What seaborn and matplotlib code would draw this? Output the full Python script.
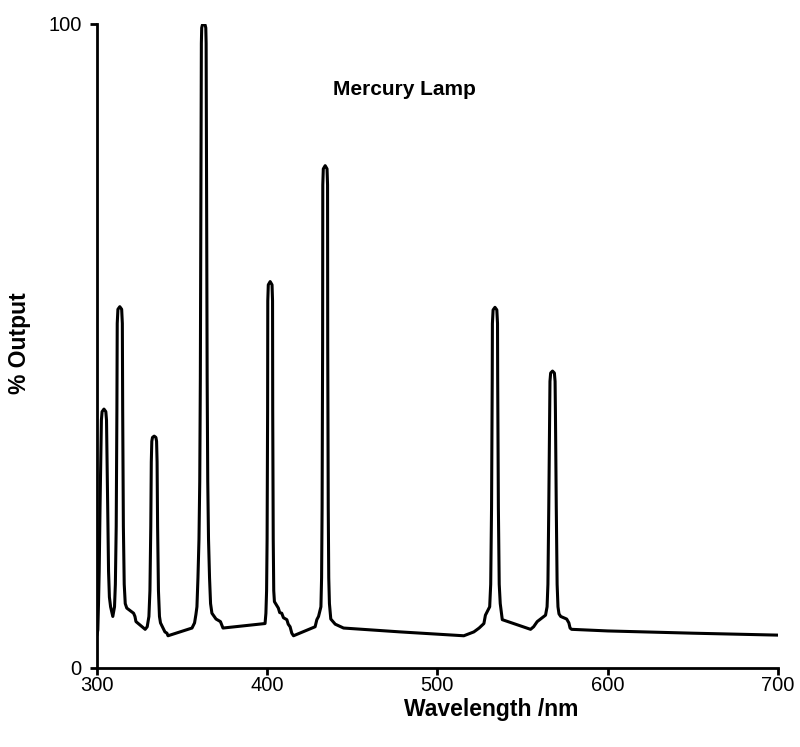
import matplotlib
matplotlib.use("Agg")
import matplotlib.pyplot as plt
import pandas as pd
import seaborn as sns

# Mercury lamp emission trace: wavelength (nm) and relative output (%)
wavelength_nm = [
    # 300-310 nm line
    300.0, 300.6, 301.0, 301.4, 301.9, 302.4, 302.7, 303.1, 304.2, 305.3, 305.7, 306.0,
    306.4, 306.9, 307.4, 308.1, 309.4,
    # 313 nm line
    310.4, 310.9, 311.4, 311.8, 312.0, 312.4, 313.5, 314.6, 315.0, 315.2, 315.6, 316.1,
    316.7, 317.6, 321.6, 322.4, 323.0, 328.4, 329.6,
    # 334 nm line
    330.6, 331.2, 331.7, 332.0, 332.3, 332.7, 333.7, 334.7, 335.1, 335.4, 335.7, 336.2,
    336.8, 337.4, 340.0, 341.2, 341.8, 355.9,
    # 363 nm line
    357.4, 358.2, 358.8, 359.4, 360.0, 360.45, 360.8, 361.1, 361.4, 361.6, 362.0, 362.8,
    363.6, 364.0, 364.2, 364.5, 364.8, 365.15, 365.6, 366.2, 366.8, 367.6, 370.0, 372.6,
    373.5, 374.1, 398.8,
    # 402 nm line
    399.3, 399.7, 400.0, 400.3, 400.4, 400.7, 401.8, 402.9, 403.2, 403.3, 403.6, 403.9,
    404.3, 405.2, 406.6, 407.4, 408.6, 409.6, 411.6, 412.4, 413.5, 414.5, 415.5, 428.2,
    # 434 nm line
    429.2, 430.2, 431.6, 432.0, 432.3, 432.6, 432.7, 433.0, 434.1, 435.2, 435.5, 435.6,
    435.9, 436.2, 436.6, 437.4, 440.0, 444.9, 478.2, 515.5, 521.4, 524.5, 527.3,
    # 534 nm line
    528.2, 530.7, 531.3, 531.8, 532.2, 532.3, 532.7, 533.8, 534.9, 535.3, 535.4, 535.8,
    536.3, 536.9, 538.1, 554.7, 556.5, 558.6, 563.5,
    # 568 nm line
    564.4, 564.9, 565.4, 565.9, 566.1, 566.5, 567.6, 568.7, 569.1, 569.3, 569.8, 570.3,
    570.8, 571.4, 572.4, 575.9, 577.2, 577.9, 578.8, 600.0, 650.0, 700.0,
]
output_pct = [
    5.0, 5.9, 10.0, 15.0, 25.0, 33.0, 38.5, 39.8, 40.2, 39.8, 38.5, 33.0,
    25.0, 15.0, 11.0, 9.5, 8.0,
    9.5, 13.0, 22.0, 40.0, 53.5, 55.7, 56.1, 55.7, 53.5, 40.0, 22.0, 13.0,
    10.0, 9.3, 8.5, 8.0, 7.2, 6.0, 6.4,
    8.0, 12.0, 22.0, 32.0, 35.2, 35.8, 36.0, 35.8, 35.2, 32.0, 22.0, 12.0,
    8.0, 7.0, 5.6, 5.4, 5.0, 6.2,
    7.0, 8.3, 9.5, 14.0, 20.0, 29.0, 45.0, 70.0, 97.0, 99.4, 99.85, 100.0,
    99.85, 99.4, 97.0, 70.0, 45.0, 29.0, 20.0, 14.0, 10.0, 8.5, 7.6, 7.2,
    6.6, 6.2, 6.9,
    8.5, 12.0, 20.0, 40.0, 57.0, 59.5, 60.0, 59.5, 57.0, 40.0, 20.0, 12.0,
    10.3, 9.9, 9.3, 8.6, 8.5, 7.8, 7.5, 6.8, 6.4, 5.4, 5.0, 6.4,
    7.5, 8.0, 9.5, 14.0, 25.0, 50.0, 75.0, 77.5, 78.0, 77.5, 75.0, 50.0,
    25.0, 14.0, 10.0, 7.6, 6.8, 6.2, 5.6, 5.0, 5.6, 6.2, 6.9,
    8.2, 9.5, 13.0, 25.0, 45.0, 53.5, 55.6, 56.0, 55.6, 53.5, 45.0, 25.0,
    13.0, 10.0, 7.5, 6.0, 6.4, 7.2, 8.2,
    9.5, 13.0, 25.0, 40.0, 44.5, 45.8, 46.1, 45.8, 44.5, 40.0, 25.0, 13.0,
    9.5, 8.4, 8.0, 7.6, 7.0, 6.2, 6.0, 5.75, 5.4, 5.1,
]

x_ticks = [300, 400, 500, 600, 700]
y_ticks = [0, 100]

sns.set_theme(style="white")
plt.rcParams["font.family"] = ["Liberation Sans", "DejaVu Sans"]
plt.rcParams["text.color"] = "black"
plt.rcParams["axes.labelcolor"] = "black"

df = pd.DataFrame({"wavelength": wavelength_nm, "output": output_pct})

fig = plt.figure(figsize=(8.0, 7.47), dpi=100)
ax = fig.add_axes([0.121, 0.1058, 0.8515, 0.8621])

sns.lineplot(data=df, x="wavelength", y="output", ax=ax, color="black",
             linewidth=2.2, estimator=None, sort=False)
for line in ax.get_lines():
    line.set_solid_joinstyle("round")
    line.set_solid_capstyle("round")

ax.set_xlim(300, 700)
ax.set_ylim(0, 100)
ax.set_xticks(x_ticks)
ax.set_yticks(y_ticks)
ax.set_xticklabels([str(t) for t in x_ticks])
ax.set_yticklabels([str(t) for t in y_ticks])

for side in ("top", "right"):
    ax.spines[side].set_visible(False)
for side in ("left", "bottom"):
    ax.spines[side].set_color("black")
    ax.spines[side].set_linewidth(2.0)

ax.tick_params(axis="both", which="major", direction="out", length=5, width=2.0,
               color="black", labelsize=14.5, labelcolor="black",
               bottom=True, left=True)
ax.tick_params(axis="x", pad=0.5)
ax.tick_params(axis="y", pad=6)

ax.set_xlabel("Wavelength /nm", fontsize=16.5, fontweight="bold", color="black")
ax.xaxis.set_label_coords(0.579, -0.047)
ax.set_ylabel("% Output", fontsize=16.5, fontweight="bold", color="black")
ax.yaxis.set_label_coords(-0.096, 0.505)
ax.text(0.452, 0.899, "Mercury Lamp", transform=ax.transAxes, ha="center",
        va="center", fontsize=15, fontweight="bold", color="black")

ax.grid(False)
fig.savefig("out.png", dpi=100, facecolor="white")
